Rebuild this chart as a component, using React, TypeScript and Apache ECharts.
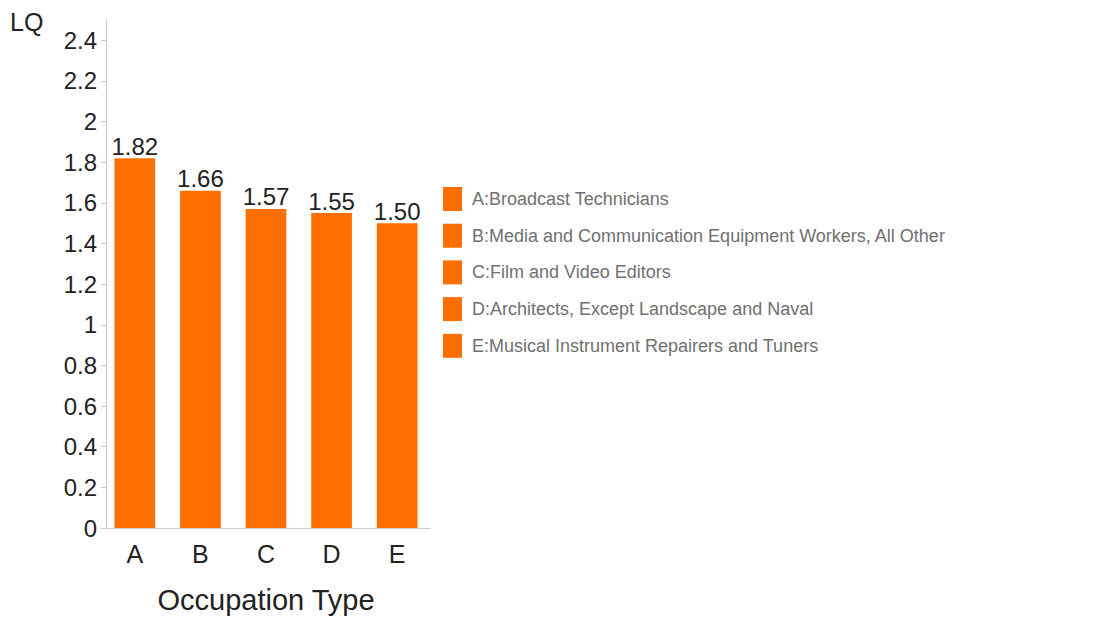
import React, { useEffect, useRef } from "react";
import * as echarts from "echarts";

const categories = ["A", "B", "C", "D", "E"];
const seriesNames = [
  "A:Broadcast Technicians",
  "B:Media and Communication Equipment Workers, All Other",
  "C:Film and Video Editors",
  "D:Architects, Except Landscape and Naval",
  "E:Musical Instrument Repairers and Tuners",
];
const lqValues = [1.82, 1.66, 1.57, 1.55, 1.5];
const yTicks = [0, 0.2, 0.4, 0.6, 0.8, 1, 1.2, 1.4, 1.6, 1.8, 2, 2.2, 2.4];

const FONT = "Liberation Sans";
const ORANGE = "#ff6f00";

export default function App() {
  const ref = useRef<HTMLDivElement>(null);
  useEffect(() => {
    document.body.style.margin = "0";
    const chart = echarts.init(ref.current!, undefined, { renderer: "svg" });
    const series = seriesNames.map((name, i) => ({
      name,
      type: "bar",
      barWidth: "62%",
      barGap: "-100%",
      itemStyle: { color: ORANGE },
      label: {
        show: true,
        position: "top",
        distance: 0,
        color: "#222",
        fontFamily: FONT,
        fontSize: 24,
        formatter: (p: any) => Number(p.value).toFixed(2),
      },
      data: categories.map((_, j) => (j === i ? lqValues[i] : "-")),
    }));
    chart.setOption({
      animation: false,
      textStyle: { fontFamily: FONT },
      grid: { left: 102, top: 20, width: 328, height: 508 },
      xAxis: {
        type: "category",
        data: categories,
        name: "Occupation Type",
        nameLocation: "middle",
        nameGap: 57,
        nameTextStyle: { fontFamily: FONT, fontSize: 29, color: "#222" },
        axisLine: { lineStyle: { color: "#ccc" } },
        axisTick: { alignWithLabel: true, length: 5, lineStyle: { color: "#ccc" } },
        axisLabel: { margin: 13, fontFamily: FONT, fontSize: 25, color: "#222" },
      },
      yAxis: {
        type: "value",
        min: 0,
        max: 2.5,
        offset: -4,
        splitLine: { show: false },
        axisLine: { show: true, lineStyle: { color: "#ccc" } },
        axisTick: { show: true, length: 5, lineStyle: { color: "#ccc" }, customValues: yTicks },
        axisLabel: {
          margin: 9,
          fontFamily: FONT,
          fontSize: 24,
          color: "#222",
          customValues: yTicks,
          formatter: (v: number) => String(Number(v.toFixed(1))),
        },
      },
      legend: {
        orient: "vertical",
        left: 443,
        top: 187,
        padding: 0,
        icon: "rect",
        itemWidth: 19,
        itemHeight: 24,
        itemGap: 12.7,
        textStyle: { fontFamily: FONT, fontSize: 18, color: "#707070", padding: [0, 0, 0, 5] },
        data: seriesNames,
      },
      graphic: [
        {
          type: "text",
          left: 10,
          top: 9,
          style: { text: "LQ", fontFamily: FONT, fontSize: 25, fill: "#222" },
        },
      ],
      series,
    });
    return () => chart.dispose();
  }, []);
  return <div ref={ref} style={{ width: 1101, height: 621 }} />;
}
